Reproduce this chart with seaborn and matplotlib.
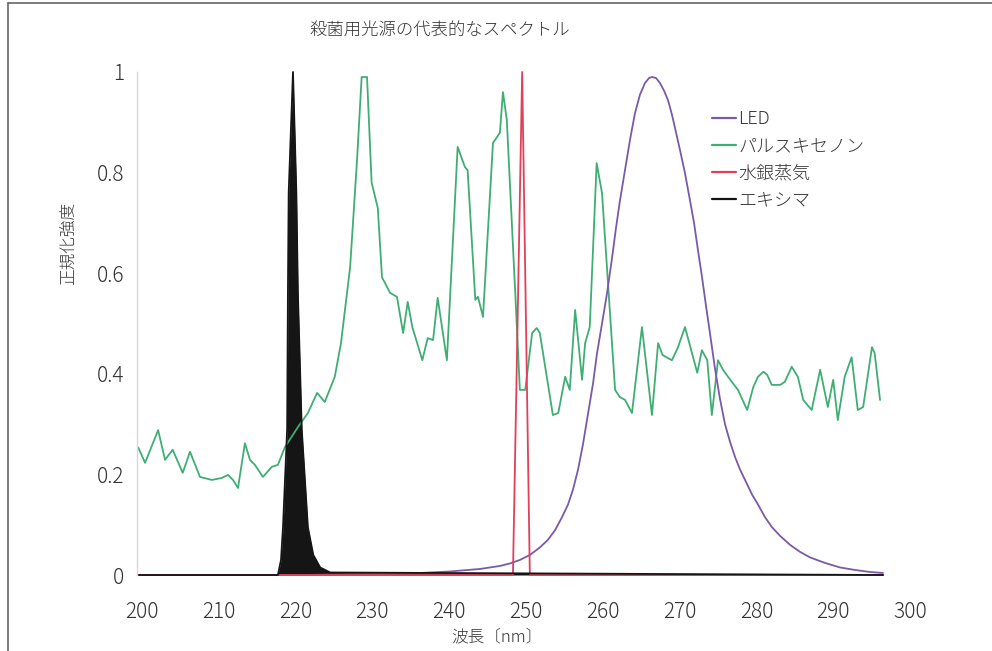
import numpy as np
import pandas as pd
import matplotlib
matplotlib.use("Agg")
import matplotlib.pyplot as plt
import seaborn as sns
from matplotlib.lines import Line2D

sns.set_theme(style="white")
plt.rcParams['font.family'] = ['Noto Sans CJK JP', 'DejaVu Sans']
plt.rcParams['font.weight'] = 'light'

# ---------------- data ----------------
title = "殺菌用光源の代表的なスペクトル"
xlabel = "波長〔nm〕"
ylabel = "正規化強度"
series_names = ["LED", "パルスキセノン", "水銀蒸気", "エキシマ"]
x_ticks = [200, 210, 220, 230, 240, 250, 260, 270, 280, 290, 300]
y_ticks = [0, 0.2, 0.4, 0.6, 0.8, 1.0]
y_ticklabels = ["0", "0.2", "0.4", "0.6", "0.8", "1"]

led_wl = [199.5, 220.57, 230.99, 236.2, 240.1, 244.01, 246.61, 247.92, 249.22, 250.52,
          251.82, 252.86, 253.78, 254.69, 255.47, 256.12, 256.77, 257.42, 258.07, 258.72,
          259.24, 259.9, 260.55, 261.2, 261.72, 262.24, 262.89, 263.54, 264.19, 264.84,
          265.49, 266.02, 266.41, 266.93, 267.45, 267.97, 268.49, 269.01, 269.53, 270.05,
          270.7, 271.35, 271.88, 272.4, 272.92, 273.44, 273.96, 274.61, 275.26, 275.91,
          276.56, 277.21, 277.86, 278.52, 279.43, 280.21, 281.12, 282.03, 283.07, 284.38,
          285.68, 286.98, 288.93, 290.89, 292.84, 294.79, 296.48]
led_val = [0.0, 0.0, 0.002, 0.004, 0.007, 0.012, 0.018, 0.023, 0.03, 0.04,
           0.055, 0.07, 0.089, 0.115, 0.14, 0.17, 0.209, 0.26, 0.32, 0.38,
           0.44, 0.50, 0.56, 0.63, 0.69, 0.745, 0.805, 0.865, 0.918, 0.955,
           0.978, 0.988, 0.99, 0.988, 0.978, 0.963, 0.944, 0.915, 0.88, 0.845,
           0.799, 0.745, 0.70, 0.645, 0.592, 0.535, 0.48, 0.41, 0.35, 0.30,
           0.265, 0.235, 0.21, 0.189, 0.16, 0.14, 0.115, 0.095, 0.078, 0.06,
           0.046, 0.035, 0.024, 0.015, 0.01, 0.006, 0.004]

xenon_wl = [199.5, 200.4, 202.1, 203.0, 204.0, 205.3, 206.25, 207.55, 209.1, 210.4,
            211.2, 211.85, 212.5, 213.4, 214.06, 214.7, 215.75, 216.9, 217.7, 218.6,
            220.3, 221.6, 222.8, 223.8, 225.1, 225.9, 227.1, 228.0, 228.6, 229.3,
            229.9, 230.7, 231.25, 232.3, 233.2, 234.0, 234.6, 235.2, 236.5, 237.2,
            237.9, 238.5, 239.7, 241.1, 242.05, 242.4, 243.4, 243.75, 244.4, 245.7,
            246.6, 247.0, 247.5, 248.6, 249.2, 249.9, 250.8, 251.4, 251.8, 253.5,
            254.2, 255.1, 255.7, 256.4, 257.3, 257.7, 258.3, 259.2, 259.9, 261.6,
            262.2, 262.9, 263.8, 265.1, 266.4, 267.2, 267.8, 269.0, 269.8, 270.7,
            272.3, 272.9, 273.6, 274.2, 275.0, 275.65, 276.6, 277.6, 278.8, 279.6,
            280.2, 280.9, 281.4, 282.0, 283.1, 283.7, 284.6, 285.4, 286.1, 287.2,
            288.3, 289.3, 290.0, 290.6, 291.5, 292.4, 293.2, 293.9, 295.05, 295.4,
            296.1]
xenon_val = [0.254, 0.223, 0.288, 0.229, 0.249, 0.203, 0.245, 0.195, 0.189, 0.193,
             0.199, 0.189, 0.173, 0.262, 0.229, 0.219, 0.195, 0.215, 0.219, 0.254,
             0.294, 0.322, 0.362, 0.344, 0.394, 0.46, 0.612, 0.825, 0.99, 0.99,
             0.78, 0.73, 0.592, 0.561, 0.553, 0.481, 0.543, 0.493, 0.427, 0.471,
             0.467, 0.551, 0.427, 0.851, 0.811, 0.805, 0.547, 0.553, 0.513, 0.859,
             0.879, 0.96, 0.905, 0.561, 0.368, 0.368, 0.481, 0.491, 0.481, 0.318,
             0.322, 0.394, 0.368, 0.527, 0.388, 0.461, 0.493, 0.819, 0.759, 0.368,
             0.354, 0.348, 0.322, 0.493, 0.318, 0.461, 0.437, 0.427, 0.453, 0.493,
             0.402, 0.447, 0.427, 0.318, 0.427, 0.408, 0.388, 0.368, 0.328, 0.374,
             0.394, 0.404, 0.398, 0.378, 0.378, 0.384, 0.414, 0.394, 0.348, 0.328,
             0.408, 0.334, 0.388, 0.308, 0.394, 0.433, 0.328, 0.334, 0.453, 0.441,
             0.348]

mercury_wl = [199.5, 248.3, 249.5, 250.5, 296.5]
mercury_val = [0.0, 0.0, 1.0, 0.0, 0.0]

excimer_wl = [199.5, 217.7, 218.1, 218.36, 218.9, 219.0, 219.1, 219.66, 220.1, 220.3,
              220.8, 221.6, 222.3, 223.2, 224.5, 296.5]
excimer_val = [0.0, 0.0, 0.03, 0.095, 0.29, 0.56, 0.76, 1.0, 0.76, 0.56,
               0.29, 0.095, 0.04, 0.015, 0.005, 0.0]

colors = {"LED": "#7a5aa8", "パルスキセノン": "#3fae74",
          "水銀蒸気": "#e0405a", "エキシマ": "#151515"}

df = pd.concat([
    pd.DataFrame({"wl": led_wl, "val": led_val, "src": "LED"}),
    pd.DataFrame({"wl": xenon_wl, "val": xenon_val, "src": "パルスキセノン"}),
    pd.DataFrame({"wl": mercury_wl, "val": mercury_val, "src": "水銀蒸気"}),
    pd.DataFrame({"wl": excimer_wl, "val": excimer_val, "src": "エキシマ"}),
], ignore_index=True)

# ---------------- figure ----------------
W, H = 992, 651
fig = plt.figure(figsize=(W / 100, H / 100), dpi=100)
fig.patch.set_facecolor("white")
ax = fig.add_axes([137 / W, 1 - 575 / H, (910 - 137) / W, (575 - 72) / H])
ax.set_facecolor("white")

draw_order = ["パルスキセノン", "LED", "水銀蒸気", "エキシマ"]
for name in draw_order:
    sub = df[df["src"] == name]
    sns.lineplot(data=sub, x="wl", y="val", ax=ax, color=colors[name],
                 linewidth=1.3, sort=False, estimator=None, legend=False,
                 clip_on=False)
exc = df[df["src"] == "エキシマ"]
ax.fill_between(exc["wl"], 0, exc["val"], color=colors["エキシマ"], linewidth=0)

ax.set_xlim(199.35, 300)
ax.set_ylim(0, 1.0)
ax.set_xticks(x_ticks)
ax.set_xticklabels([str(t) for t in x_ticks])
ax.set_yticks(y_ticks)
ax.set_yticklabels(y_ticklabels)
ax.tick_params(axis="both", length=0, labelsize=15, colors="#333333")
ax.tick_params(axis="x", pad=19)
ax.tick_params(axis="y", pad=9)
ax.set_xlabel("")
ax.set_ylabel("")
for s in ["top", "right", "bottom"]:
    ax.spines[s].set_visible(False)
ax.spines["left"].set_color("#d8d8d8")
ax.spines["left"].set_linewidth(1.0)
ax.grid(False)

# legend
handles = [Line2D([0], [0], color=colors[n], linewidth=1.6) for n in series_names]
leg = ax.legend(handles, series_names, loc="upper left",
                bbox_to_anchor=(705 / W, 1 - 103 / H), bbox_transform=fig.transFigure,
                frameon=False, fontsize=13, handlelength=1.3, handletextpad=0.15,
                labelspacing=0.5, borderaxespad=0)
for t in leg.get_texts():
    t.set_color("#333333")

# titles / labels
fig.text(440 / W, 1 - 30 / H, title, ha="center", va="center", fontsize=12.5, color="#333333")
fig.text(497 / W, 1 - 637 / H, xlabel, ha="center", va="center", fontsize=12, color="#333333")
fig.text(69 / W, 1 - 243 / H, ylabel, ha="center", va="center", rotation=90,
         fontsize=12, color="#333333")

# outer frame lines
fig.add_artist(Line2D([8 / W, 1.0], [1 - 3 / H, 1 - 3 / H], transform=fig.transFigure,
                      color="#666666", linewidth=1.2))
fig.add_artist(Line2D([8 / W, 8 / W], [0, 1 - 3 / H], transform=fig.transFigure,
                      color="#666666", linewidth=1.2))

fig.savefig("out.png", dpi=100)
